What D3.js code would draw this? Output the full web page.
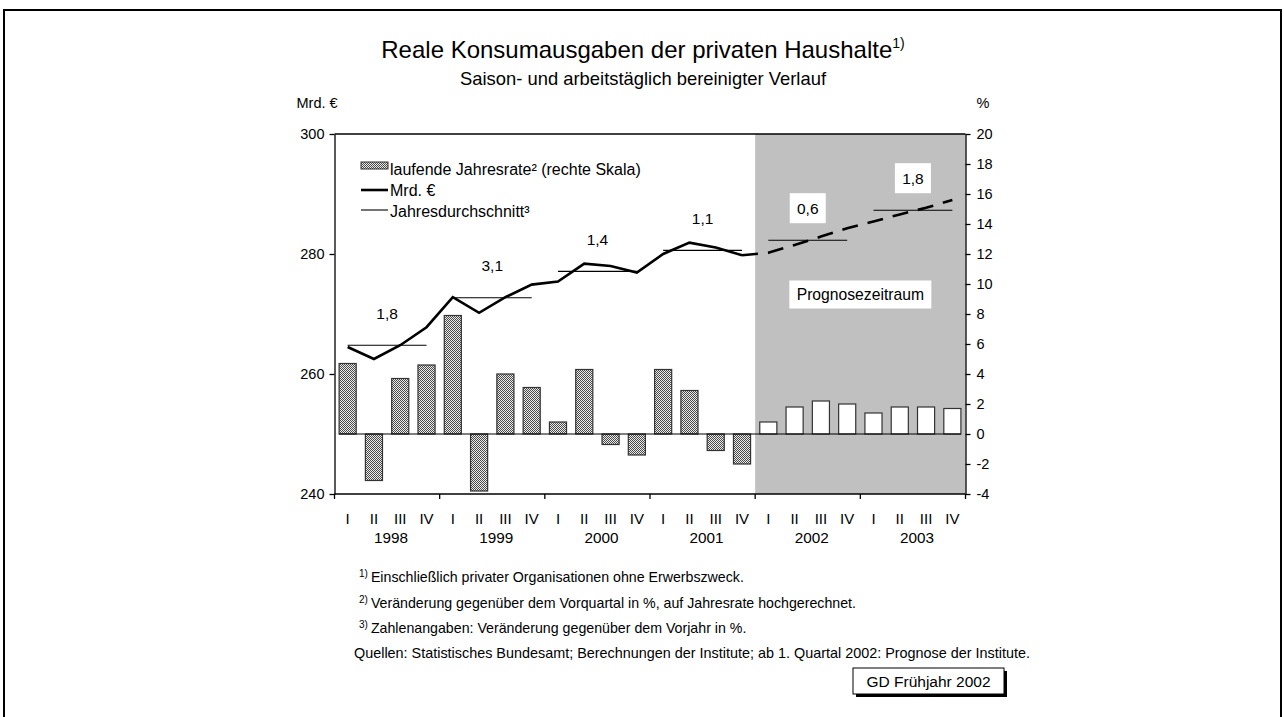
<!DOCTYPE html>
<html>
<head>
<meta charset="utf-8">
<script src="https://cdn.jsdelivr.net/npm/d3@7"></script>
<style>
body { margin: 0; background: #fff; }
text { font-family: "Liberation Sans", Arial, sans-serif; fill: #000; }
</style>
</head>
<body>
<div id="chart"></div>
<script>
var quarters = ["I", "II", "III", "IV"];
var years = ["1998", "1999", "2000", "2001", "2002", "2003"];
// laufende Jahresrate in % (rechte Skala), 1998 I .. 2003 IV
var rate = [4.7, -3.1, 3.7, 4.6, 7.9, -3.8, 4.0, 3.1, 0.8, 4.3, -0.7, -1.4, 4.3, 2.9, -1.1, -2.0,
            0.8, 1.8, 2.2, 2.0, 1.4, 1.8, 1.8, 1.7];
// Mrd. € (linke Skala), Ist-Werte 1998 I .. 2001 IV
var level = [264.5, 262.5, 264.8, 267.8, 272.8, 270.2, 272.8, 274.9, 275.4, 278.4, 278.0, 276.9,
             280.0, 281.9, 281.1, 279.8];
// Prognose 2001 IV .. 2003 IV
var forecast = [279.8, 280.2, 281.5, 282.9, 284.3, 285.4, 286.6, 287.7, 289.0];
var yearAvg = [264.8, 272.7, 277.1, 280.6, 282.3, 287.3];
var yearAvgLabel = ["1,8", "3,1", "1,4", "1,1", "0,6", "1,8"];
var leftTicks = [240, 260, 280, 300];
var rightTicks = [-4, -2, 0, 2, 4, 6, 8, 10, 12, 14, 16, 18, 20];
var footnotes = [
  ["1)", "Einschließlich privater Organisationen ohne Erwerbszweck."],
  ["2)", "Veränderung gegenüber dem Vorquartal in %, auf Jahresrate hochgerechnet."],
  ["3)", "Zahlenangaben: Veränderung gegenüber dem Vorjahr in %."]
];
var source = "Quellen: Statistisches Bundesamt; Berechnungen der Institute; ab 1. Quartal 2002: Prognose der Institute.";

var W = 1284, H = 717;
var x0 = 334.5, x1 = 965.5, yTop = 134, yBot = 494;
var nQ = years.length * 4;
var firstForecast = 16;

var svg = d3.select("#chart").append("svg")
    .attr("width", W)
    .attr("height", H);

var defs = svg.append("defs");
var pat = defs.append("pattern")
    .attr("id", "dots")
    .attr("width", 2).attr("height", 2)
    .attr("patternUnits", "userSpaceOnUse");
pat.append("rect").attr("width", 2).attr("height", 2).attr("fill", "#ececec");
pat.append("rect").attr("width", 1).attr("height", 1).attr("fill", "#4a4a4a");
pat.append("rect").attr("x", 1).attr("y", 1).attr("width", 1).attr("height", 1).attr("fill", "#4a4a4a");

// outer frame
svg.append("rect")
    .attr("x", 4).attr("y", 10)
    .attr("width", 1277).attr("height", 720)
    .attr("fill", "none")
    .attr("stroke", "#000")
    .attr("stroke-width", 2);

// scales
var idx = d3.range(nQ);
var xBand = d3.scaleBand()
    .domain(idx)
    .range([x0, x1])
    .paddingInner(0.35)
    .paddingOuter(0.175);
var xEdge = d3.scaleLinear().domain([0, nQ]).range([x0, x1]);
var xc = function(i) { return xBand(i) + xBand.bandwidth() / 2; };
var yL = d3.scaleLinear().domain([240, 300]).range([yBot, yTop]);
var yR = d3.scaleLinear().domain([-4, 20]).range([yBot, yTop]);

// forecast shading
svg.append("rect")
    .attr("x", xEdge(firstForecast))
    .attr("y", yTop)
    .attr("width", xEdge(nQ) - xEdge(firstForecast))
    .attr("height", yBot - yTop)
    .attr("fill", "#c0c0c0");

// top border of plot
svg.append("line")
    .attr("x1", x0).attr("x2", x1)
    .attr("y1", yTop).attr("y2", yTop)
    .attr("stroke", "#000").attr("stroke-width", 1.3);

// bars
svg.selectAll("rect.bar")
    .data(rate)
    .enter()
    .append("rect")
      .attr("class", "bar")
      .attr("x", function(d, i) { return xBand(i); })
      .attr("y", function(d) { return yR(Math.max(0, d)); })
      .attr("width", xBand.bandwidth())
      .attr("height", function(d) { return Math.abs(yR(d) - yR(0)); })
      .attr("fill", function(d, i) { return i < firstForecast ? "url(#dots)" : "#fff"; })
      .attr("stroke", "#333")
      .attr("stroke-width", 1.2);

// zero line
svg.append("line")
    .attr("x1", xBand(0)).attr("x2", xBand(nQ - 1) + xBand.bandwidth())
    .attr("y1", yR(0)).attr("y2", yR(0))
    .attr("stroke", "#000").attr("stroke-width", 1.2);

// year averages
svg.selectAll("line.avg")
    .data(yearAvg)
    .enter()
    .append("line")
      .attr("class", "avg")
      .attr("x1", function(d, i) { return xc(i * 4); })
      .attr("x2", function(d, i) { return xc(i * 4 + 3); })
      .attr("y1", function(d) { return yL(d); })
      .attr("y2", function(d) { return yL(d); })
      .attr("stroke", "#000")
      .attr("stroke-width", 1.1);

// level line
var line = d3.line()
    .x(function(d) { return xc(d[0]); })
    .y(function(d) { return yL(d[1]); });

svg.append("path")
    .datum(level.map(function(d, i) { return [i, d]; }))
    .attr("d", line)
    .attr("fill", "none")
    .attr("stroke", "#000")
    .attr("stroke-width", 2.6)
    .attr("stroke-linejoin", "miter");

svg.append("path")
    .datum(forecast.map(function(d, i) { return [firstForecast - 1 + i, d]; }))
    .attr("d", line)
    .attr("fill", "none")
    .attr("stroke", "#000")
    .attr("stroke-width", 2.6)
    .attr("stroke-dasharray", "16,10");

// average labels
var labG = svg.selectAll("g.lab")
    .data(yearAvgLabel)
    .enter()
    .append("g")
      .attr("class", "lab")
      .attr("transform", function(d, i) {
          return "translate(" + (xEdge(i * 4 + 2)) + "," + (yL(yearAvg[i]) - 32) + ")";
      });
labG.filter(function(d, i) { return i * 4 >= firstForecast; })
    .append("rect")
      .attr("x", -18).attr("y", -15)
      .attr("width", 36).attr("height", 30)
      .attr("fill", "#fff");
labG.append("text")
    .attr("text-anchor", "middle")
    .attr("dy", "0.35em")
    .style("font-size", "15.5px")
    .text(function(d) { return d; });

// Prognosezeitraum box
var pg = svg.append("g")
    .attr("transform", "translate(" + xEdge(20) + "," + yR(9.3) + ")");
pg.append("rect")
    .attr("x", -71).attr("y", -14)
    .attr("width", 142).attr("height", 28)
    .attr("fill", "#fff");
pg.append("text")
    .attr("text-anchor", "middle")
    .attr("dy", "0.35em")
    .style("font-size", "15.7px")
    .text("Prognosezeitraum");

// axes
var leftAxis = svg.append("g")
    .attr("transform", "translate(" + x0 + ",0)")
    .call(d3.axisLeft(yL).tickValues(leftTicks).tickSize(5).tickPadding(5).tickSizeOuter(0));
var rightAxis = svg.append("g")
    .attr("transform", "translate(" + x1 + ",0)")
    .call(d3.axisRight(yR).tickValues(rightTicks).tickSize(5).tickPadding(6).tickSizeOuter(0)
          .tickFormat(d3.format("d")));
[leftAxis, rightAxis].forEach(function(a) {
    a.selectAll("path, line").attr("stroke", "#000").attr("stroke-width", 1.3);
    a.selectAll("text").style("font-size", "14.5px")
        .style("font-family", "'Liberation Sans', Arial, sans-serif");
});
rightAxis.selectAll("text").text(function(d) { return d < 0 ? "-" + Math.abs(d) : d; });

// category axis
svg.append("line")
    .attr("x1", x0).attr("x2", x1)
    .attr("y1", yBot).attr("y2", yBot)
    .attr("stroke", "#000").attr("stroke-width", 1.3);
svg.selectAll("line.ytick")
    .data(d3.range(years.length + 1))
    .enter()
    .append("line")
      .attr("x1", function(d) { return xEdge(d * 4); })
      .attr("x2", function(d) { return xEdge(d * 4); })
      .attr("y1", yBot).attr("y2", yBot + 5)
      .attr("stroke", "#000").attr("stroke-width", 1.3);
svg.selectAll("text.q")
    .data(idx)
    .enter()
    .append("text")
      .attr("x", function(i) { return xc(i); })
      .attr("y", yBot + 30)
      .attr("text-anchor", "middle")
      .style("font-size", "15px")
      .text(function(i) { return quarters[i % 4]; });
svg.selectAll("text.yr")
    .data(years)
    .enter()
    .append("text")
      .attr("x", function(d, i) { return xEdge(i * 4 + 2) + 4; })
      .attr("y", yBot + 49)
      .attr("text-anchor", "middle")
      .style("font-size", "15.3px")
      .text(function(d) { return d; });

// unit labels
svg.append("text").attr("x", x0 - 38).attr("y", 108).style("font-size", "14.5px").text("Mrd. €");
svg.append("text").attr("x", x1 + 11).attr("y", 108).style("font-size", "14.5px").text("%");

// title
var title = svg.append("text")
    .attr("x", 643).attr("y", 58)
    .attr("text-anchor", "middle")
    .style("font-size", "24px");
title.append("tspan").text("Reale Konsumausgaben der privaten Haushalte");
title.append("tspan").attr("dy", -10).style("font-size", "14px").text("1)");
svg.append("text")
    .attr("x", 643).attr("y", 85)
    .attr("text-anchor", "middle")
    .style("font-size", "18.4px")
    .text("Saison- und arbeitstäglich bereinigter Verlauf");

// legend
var lg = svg.append("g");
lg.append("rect")
    .attr("x", 361).attr("y", 162).attr("width", 27).attr("height", 7)
    .attr("fill", "url(#dots)").attr("stroke", "#333").attr("stroke-width", 1);
lg.append("line")
    .attr("x1", 361).attr("x2", 388).attr("y1", 190).attr("y2", 190)
    .attr("stroke", "#000").attr("stroke-width", 2.6);
lg.append("line")
    .attr("x1", 361).attr("x2", 388).attr("y1", 210).attr("y2", 210)
    .attr("stroke", "#000").attr("stroke-width", 1.1);
var legendText = ["laufende Jahresrate² (rechte Skala)", "Mrd. €", "Jahresdurchschnitt³"];
lg.selectAll("text")
    .data(legendText)
    .enter()
    .append("text")
      .attr("x", 390)
      .attr("y", function(d, i) { return 169 + i * 21; })
      .attr("dy", "0.35em")
      .style("font-size", "16px")
      .text(function(d) { return d; });

// footnotes
footnotes.forEach(function(f, i) {
    var t = svg.append("text")
        .attr("x", 359).attr("y", 582 + i * 25.5)
        .style("font-size", "14.2px");
    t.append("tspan").attr("dy", -5).style("font-size", "10px").text(f[0]);
    t.append("tspan").attr("dy", 5).attr("dx", 3).text(f[1]);
});
svg.append("text")
    .attr("x", 354).attr("y", 658)
    .style("font-size", "14.4px")
    .text(source);

// GD box
svg.append("rect")
    .attr("x", 856).attr("y", 671).attr("width", 151).attr("height", 26)
    .attr("fill", "#000");
svg.append("rect")
    .attr("x", 853).attr("y", 668).attr("width", 151).attr("height", 26)
    .attr("fill", "#fff").attr("stroke", "#000").attr("stroke-width", 1);
svg.append("text")
    .attr("x", 928.5).attr("y", 686.5)
    .attr("text-anchor", "middle")
    .style("font-size", "15.5px")
    .text("GD Frühjahr 2002");
</script>
</body>
</html>
